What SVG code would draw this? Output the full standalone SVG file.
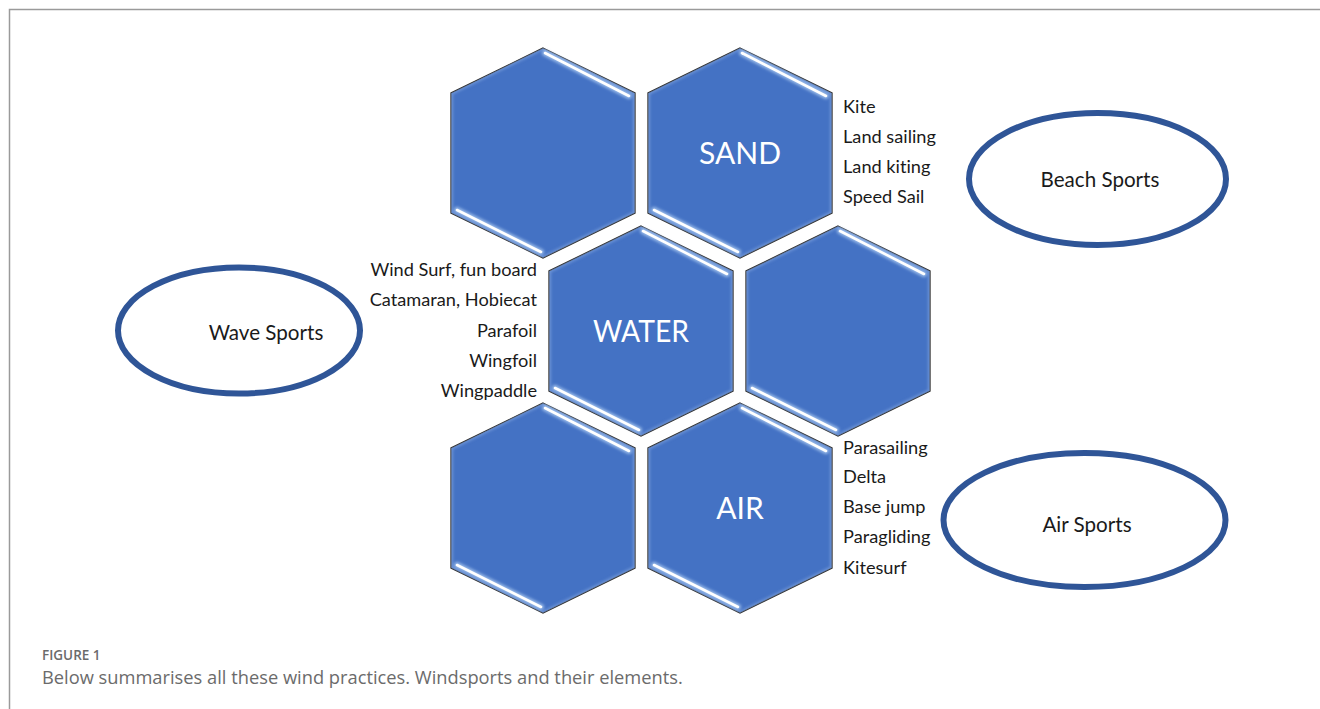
<svg xmlns="http://www.w3.org/2000/svg" width="1320" height="709" viewBox="0 0 1320 709">
  <style>
    text { font-variant-ligatures: none; }
    .hexbody { fill: #4472C4; stroke: #2b2b2b; stroke-width: 1.3; stroke-linejoin: miter; }
    .hexrim { fill: none; stroke: #8fb0e6; stroke-width: 4; opacity: 0.55; }
    .glow { stroke: #a9c8f0; stroke-width: 6; stroke-linecap: round; opacity: 0.85; }
    .shine { stroke: #ffffff; stroke-width: 2.6; stroke-linecap: round; }
    .hexlabel { font-family: Lato, "Open Sans", sans-serif; font-size: 30px; fill: #ffffff; text-anchor: middle; }
    .item { font-family: Lato, "Open Sans", sans-serif; font-size: 18.2px; fill: #1a1a1a; }
    .ring { fill: #ffffff; stroke: #2F5597; stroke-width: 6; }
    .ringlabel { font-family: Lato, "Open Sans", sans-serif; font-size: 20.6px; fill: #1a1a1a; text-anchor: middle; }
    .frame { stroke: #9a9a9a; stroke-width: 1.5; fill: none; }
    .fig { font-family: "Open Sans", "Noto Sans", sans-serif; font-size: 13.5px; font-weight: 600; fill: #6b6b6b; }
    .caption { font-family: "Open Sans", "Noto Sans", sans-serif; font-size: 18.3px; fill: #6b6b6b; }
  </style>
  <defs>
    <clipPath id="hexClip">
      <polygon points="0,-105 92,-60 92,60 0,105 -92,60 -92,-60"/>
    </clipPath>
    <filter id="soft" x="-20%" y="-20%" width="140%" height="140%">
      <feGaussianBlur stdDeviation="1.6"/>
    </filter>
    <!-- bevelled hexagon tile, drawn around its centre -->
    <g id="hexTile">
      <polygon class="hexbody" points="0,-105 92,-60 92,60 0,105 -92,60 -92,-60"/>
      <polygon class="hexrim" clip-path="url(#hexClip)" filter="url(#soft)" points="0,-105 92,-60 92,60 0,105 -92,60 -92,-60"/>
      <line class="glow" filter="url(#soft)" x1="2" y1="-100" x2="86" y2="-57"/>
      <line class="glow" filter="url(#soft)" x1="-86" y1="57" x2="-2" y2="99"/>
      <line class="shine" x1="2" y1="-100" x2="86" y2="-57"/>
      <line class="shine" x1="-86" y1="57" x2="-2" y2="99"/>
    </g>
  </defs>

  <rect width="1320" height="709" fill="#ffffff"/>

  <!-- figure frame (top and left rules) -->
  <path class="frame" d="M9.5,709 V9.5 H1320"/>

  <!-- hexagon cluster -->
  <g id="hex-top-left" transform="translate(543,153)">
    <use href="#hexTile"/>
  </g>
  <g id="hex-sand" transform="translate(740,153)">
    <use href="#hexTile"/>
    <text class="hexlabel" x="0" y="11">SAND</text>
  </g>
  <g id="hex-water" transform="translate(641,331)">
    <use href="#hexTile"/>
    <text class="hexlabel" x="0" y="11" textLength="96" lengthAdjust="spacingAndGlyphs">WATER</text>
  </g>
  <g id="hex-mid-right" transform="translate(838,331)">
    <use href="#hexTile"/>
  </g>
  <g id="hex-bottom-left" transform="translate(543,508)">
    <use href="#hexTile"/>
  </g>
  <g id="hex-air" transform="translate(740,508)">
    <use href="#hexTile"/>
    <text class="hexlabel" x="0" y="11">AIR</text>
  </g>

  <!-- activity lists -->
  <g id="list-sand">
    <text class="item" x="843" y="113">Kite</text>
    <text class="item" x="843" y="143">Land sailing</text>
    <text class="item" x="843" y="173">Land kiting</text>
    <text class="item" x="843" y="203">Speed Sail</text>
  </g>
  <g id="list-water" text-anchor="end">
    <text class="item" x="537" y="276">Wind Surf, fun board</text>
    <text class="item" x="537" y="306">Catamaran, Hobiecat</text>
    <text class="item" x="537" y="337">Parafoil</text>
    <text class="item" x="537" y="367">Wingfoil</text>
    <text class="item" x="537" y="397">Wingpaddle</text>
  </g>
  <g id="list-air">
    <text class="item" x="843" y="454">Parasailing</text>
    <text class="item" x="843" y="483">Delta</text>
    <text class="item" x="843" y="513">Base jump</text>
    <text class="item" x="843" y="543">Paragliding</text>
    <text class="item" x="843" y="574">Kitesurf</text>
  </g>

  <!-- category ovals -->
  <g id="oval-beach">
    <ellipse class="ring" cx="1097.5" cy="179" rx="128.5" ry="66"/>
    <text class="ringlabel" x="1100" y="187">Beach Sports</text>
  </g>
  <g id="oval-wave">
    <ellipse class="ring" cx="239" cy="330.5" rx="121" ry="63"/>
    <text class="ringlabel" x="266" y="340">Wave Sports</text>
  </g>
  <g id="oval-air">
    <ellipse class="ring" cx="1084.5" cy="520" rx="141" ry="67"/>
    <text class="ringlabel" x="1087" y="532">Air Sports</text>
  </g>

  <!-- caption -->
  <text class="fig" x="42" y="660">FIGURE 1</text>
  <text class="caption" x="42" y="684">Below summarises all these wind practices. Windsports and their elements.</text>
</svg>
